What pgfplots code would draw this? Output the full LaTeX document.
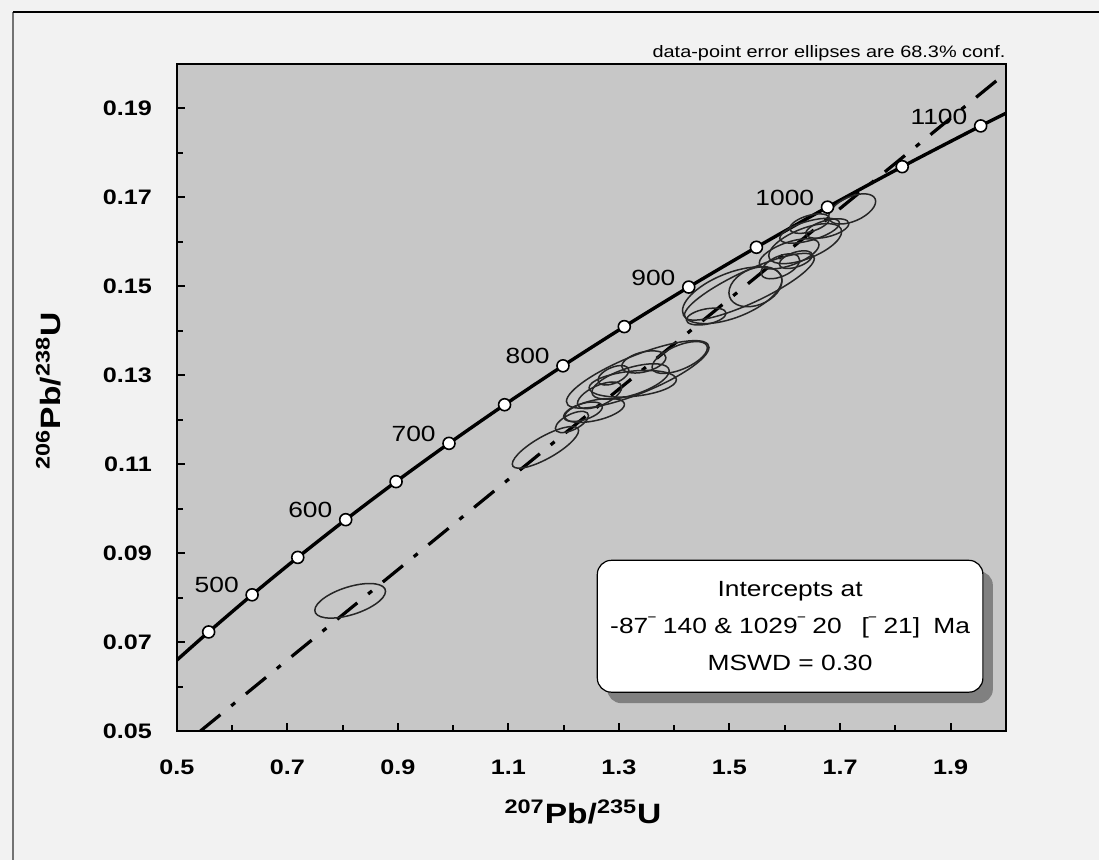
\documentclass[border=0pt]{standalone}
\usepackage{fontspec}
\setmainfont{Liberation Sans}[FakeStretch=1.2]
\usepackage{graphicx}
\usepackage{pgfplots}
\pgfplotsset{compat=1.18}
\usetikzlibrary{shadows}
\definecolor{pagebg}{HTML}{F2F2F2}
\definecolor{plotbg}{HTML}{C7C7C7}
\definecolor{shadowgray}{HTML}{808080}

\newcommand\mac{\scalebox{0.5}[1]{¯}}

% error ellipse: unit circle mapped by [sx*Sx, 0; rho*sy*Sy, sqrt(1-rho^2)*sy*Sy]
\pgfdeclareplotmark{errell}{%
  \pgftransformcm{\ellA}{\ellB}{0}{\ellD}{\pgfpointorigin}%
  \pgfpathcircle{\pgfpointorigin}{1pt}%
  \pgfusepathqstroke}
\def\xunit{276.6667}% pt per unit (415pt / 1.5)
\def\yunit{2226.6667}% pt per unit (334pt / 0.15)

\pgfplotstableread{
t      x        y
411.7  0.50000  0.06595
450    0.55766  0.07230
500    0.63628  0.08065
550    0.71887  0.08906
600    0.80563  0.09754
650    0.89677  0.10609
700    0.99251  0.11470
750    1.09308  0.12338
800    1.19873  0.13213
850    1.30971  0.14094
900    1.42630  0.14983
950    1.54876  0.15878
1000   1.67741  0.16780
1050   1.81255  0.17690
1100   1.95452  0.18606
1115.5 2.00000  0.18890
}\concordia

\pgfplotstableread{
x        y        lab
0.63628  0.08065  500
0.80563  0.09754  600
0.99251  0.11470  700
1.19873  0.13213  800
1.42630  0.14983  900
1.67741  0.16780  1000
1.95452  0.18606  1100
}\agelabels

\pgfplotstableread{
x      y       sx      sy      rho
0.8137 0.0793  0.0640  0.0039  0.55
1.167  0.1138  0.0600  0.0047  0.80
1.215  0.1195  0.0300  0.0024  0.60
1.235  0.1218  0.0350  0.0022  0.50
1.256  0.1221  0.0540  0.0027  0.50
1.265  0.1255  0.0400  0.0030  0.60
1.290  0.1300  0.0280  0.0022  0.50
1.325  0.1281  0.0790  0.0030  0.30
1.321  0.1286  0.0700  0.0040  0.60
1.334  0.1302  0.1290  0.0076  0.80
1.345  0.1330  0.0400  0.0025  0.40
1.410  0.1340  0.0500  0.0036  0.60
1.458  0.1432  0.0360  0.0019  0.40
1.505  0.1480  0.0900  0.0064  0.55
1.536  0.1499  0.1175  0.0075  0.85
1.547  0.1499  0.0480  0.0045  0.30
1.592  0.1545  0.0350  0.0028  0.50
1.608  0.1573  0.0540  0.0034  0.60
1.620  0.1560  0.0300  0.0020  0.50
1.637  0.1596  0.0660  0.0045  0.60
1.645  0.1625  0.0540  0.0028  0.60
1.645  0.1641  0.0360  0.0022  0.50
1.677  0.1630  0.0390  0.0022  0.50
1.722  0.1674  0.0425  0.0034  0.50
}\ellipses

\begin{document}
\begin{tikzpicture}
\fill[pagebg] (-88.5pt,-64.5pt) rectangle (461.5pt,366pt);
\draw[black!55, line width=0.8pt] (-82pt,-64.5pt) -- (-82pt,360pt);
\draw[line width=1.3pt] (-82pt,360pt) -- (461.5pt,360pt);
\begin{axis}[
    name=ax,
    scale only axis,
    width=415pt, height=334pt,
    xmin=0.5, xmax=2.0, ymin=0.05, ymax=0.20,
    axis background/.style={fill=plotbg},
    axis line style={line width=1.2pt},
    xtick={0.5,0.7,0.9,1.1,1.3,1.5,1.7,1.9},
    ytick={0.05,0.07,0.09,0.11,0.13,0.15,0.17,0.19},
    minor x tick num=1, minor y tick num=1,
    tick align=inside, tick pos=left,
    major tick length=4pt, minor tick length=3pt,
    every tick/.style={black, line width=1pt},
    scaled ticks=false,
    /pgf/number format/assume math mode=true,
    xticklabel={\pgfmathprintnumber[fixed, precision=1, fixed zerofill]{\tick}},
    yticklabel={\pgfmathprintnumber[fixed, precision=2, fixed zerofill]{\tick}},
    ticklabel style={font=\bfseries\fontsize{10.5}{12}\selectfont},
    xticklabel style={anchor=base, yshift=-21.8pt},
    yticklabel style={anchor=east, xshift=-9pt},
    xlabel={\textsuperscript{207}Pb/\textsuperscript{235}U},
    ylabel={\textsuperscript{206}Pb/\textsuperscript{238}U},
    every axis x label/.style={at={(axis description cs:0.49,-0.1213)}, anchor=center,
      font=\bfseries\fontsize{14}{16}\selectfont},
    every axis y label/.style={at={(axis description cs:-0.155,0.51)}, rotate=90, anchor=center,
      font=\bfseries\fontsize{14}{16}\selectfont},
]
% concordia
\addplot[black, line width=1.7pt, smooth] table[x=x, y=y] {\concordia};
% discordia through the two intercepts
\addplot[black, line width=1.6pt, dash pattern=on 13pt off 7pt on 2.5pt off 7pt]
  coordinates {(0.5425,0.05) (2.0,0.19794)};
% error ellipses
\addplot[
    scatter, only marks, mark=errell,
    mark options={draw=black!85, line width=0.75pt},
    visualization depends on={\thisrow{sx}\as\esx},
    visualization depends on={\thisrow{sy}\as\esy},
    visualization depends on={\thisrow{rho}\as\erho},
    scatter/@pre marker code/.code={%
      \pgfmathsetmacro\ellA{\esx*\xunit}%
      \pgfmathsetmacro\ellB{\erho*\esy*\yunit}%
      \pgfmathsetmacro\ellD{sqrt(1-\erho*\erho)*\esy*\yunit}%
    },
    scatter/@post marker code/.code={},
] table[x=x, y=y] {\ellipses};
% age markers
\addplot[only marks, mark=*, mark size=3pt,
    mark options={fill=white, draw=black, line width=0.8pt},
    restrict x to domain=0.52:1.99] table[x=x, y=y] {\concordia};
% age labels
\addplot[draw=none, mark=none, nodes near coords, point meta=explicit symbolic,
    every node near coord/.append style={anchor=east, xshift=-6.5pt, yshift=4.75pt,
      inner sep=0pt, font=\fontsize{11}{12}\selectfont}]
  table[x=x, y=y, meta=lab] {\agelabels};
\node[draw=black, line width=0.6pt, fill=white, rounded corners=7pt,
      minimum width=193pt, minimum height=66pt, align=center,
      font=\fontsize{11}{18.5}\selectfont,
      drop shadow={shadow xshift=5pt, shadow yshift=-5.5pt, fill=shadowgray, opacity=1}]
  at (rel axis cs:0.7398,0.1572)
  {Intercepts at\\-87\mac\ 140 \& 1029\mac\ 20\hspace{0.9em}[\mac\ 21]\hspace{0.6em}Ma\\MSWD = 0.30};
\end{axis}
\node[anchor=south east, inner sep=0pt, yshift=1.5pt, font=\fontsize{8.3}{10}\selectfont]
  at (ax.north east) {data-point error ellipses are 68.3\% conf.};
\end{tikzpicture}
\end{document}
